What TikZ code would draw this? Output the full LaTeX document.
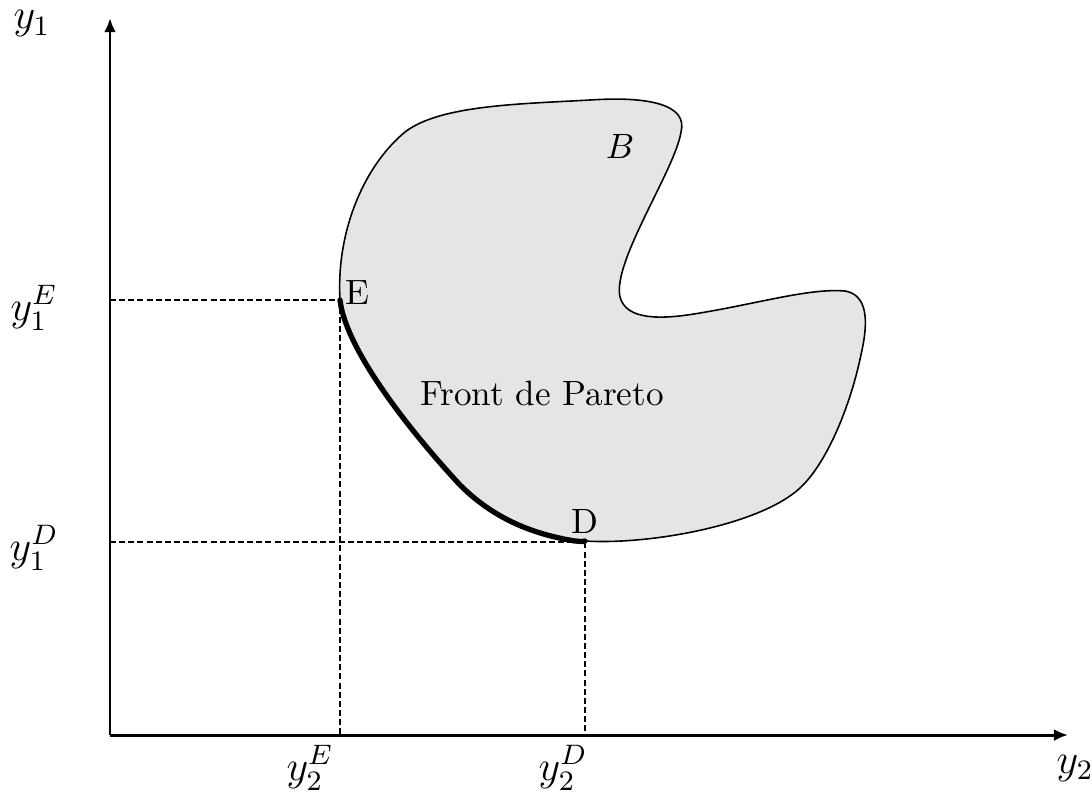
\documentclass[tikz,border=0pt]{standalone}
\usetikzlibrary{arrows.meta}
\begin{document}
\begin{tikzpicture}[x=0.01cm,y=-0.01cm,
  axis/.style={line width=0.85pt,-{Latex[length=4pt,width=3.4pt]}},
  guide/.style={dash pattern=on 1.7pt off 0.9pt,line width=0.55pt},
  blob/.style={fill=gray!20,draw=black,line width=0.45pt},
  pareto/.style={line width=1.5pt,line cap=round},
  lbl/.style={inner sep=0pt},
  albl/.style={inner sep=0pt,font=\large}]
\useasboundingbox (0,0) rectangle (1092,797);
\coordinate (O) at (110,735);
\coordinate (ytop) at (110,18);
\coordinate (xend) at (1068,735);
\coordinate (E) at (340,300);
\coordinate (D) at (585,541);
\coordinate (Ey) at (110,300);
\coordinate (Dy) at (110,542);
\coordinate (Dc) at (585,542);
\coordinate (Ex) at (340,735);
\coordinate (Dx) at (585,735);
% region B
\draw[blob] (E) .. controls (336,230) and (365,165) .. (405,132)
  .. controls (440,105) and (520,104) .. (590,100)
  .. controls (650,96) and (688,105) .. (681,132)
  .. controls (675,170) and (612,262) .. (620,297)
  .. controls (626,320) and (660,320) .. (700,313)
  .. controls (760,303) and (810,288) .. (845,291)
  .. controls (868,295) and (868,322) .. (862,350)
  .. controls (850,410) and (825,465) .. (800,488)
  .. controls (760,525) and (650,545) .. (585,541)
  .. controls (580,542) and (578,541) .. (575,541)
  .. controls (545,536) and (500,525) .. (460,485)
  .. controls (400,420) and (345,345) .. (E) -- cycle;
% Pareto front
\draw[pareto] (E) .. controls (345,345) and (400,420) .. (460,485)
  .. controls (500,525) and (545,536) .. (575,541)
  .. controls (578,541) and (582,542) .. (D);
% guides
\draw[guide] (Ey) -- (E) -- (Ex);
\draw[guide] (Dy) -- (Dc) -- (Dx);
% axes
\draw[axis] (O) -- (ytop);
\draw[axis] (O) -- (xend);
% labels
\node[albl] (ly1) at (32,24) {$y_1$};
\node[albl] (ly2) at (1075,768) {$y_2$};
\node[albl] (ly1E) at (34,308) {$y_1^E$};
\node[albl] (ly1D) at (34,548) {$y_1^D$};
\node[albl] (ly2E) at (310,768) {$y_2^E$};
\node[albl] (ly2D) at (563,768) {$y_2^D$};
\node[lbl] (lB) at (620,146) {$B$};
\node[lbl] (lE) at (357,293) {E};
\node[lbl] (lD) at (585,521) {D};
\node[lbl] (lF) at (542,393) {Front de Pareto};
\end{tikzpicture}
\end{document}
